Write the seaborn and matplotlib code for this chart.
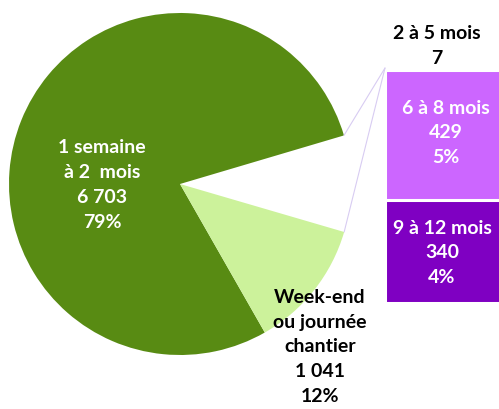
import numpy as np
import pandas as pd
import matplotlib
matplotlib.use("Agg")
import matplotlib.pyplot as plt
import seaborn as sns

# ---- data ----
pie_labels = ["1 semaine\nà 2  mois", "Week-end\nou journée\nchantier", "Autres"]
pie_values = [6703, 1041, 776]
pie_pct = ["79%", "12%", ""]
bar_labels = ["9 à 12 mois", "6 à 8 mois", "2 à 5 mois"]
bar_values = [340, 429, 7]
bar_pct = ["4%", "5%", ""]

def fmt(n):
    return f"{n:,}".replace(",", " ")

sns.set_theme(style="white")
plt.rcParams['font.family'] = ['Lato', 'DejaVu Sans']

W, H = 499, 409
fig = plt.figure(figsize=(W / 100, H / 100), dpi=100)

dark_green = "#588B13"
light_green = "#CCF29B"
light_purple = "#CC66FF"
dark_purple = "#7F00C2"

# bar axes
bx0, bx1 = 385, 505
by_top, by_bot = 68, 303
axb = fig.add_axes([bx0 / W, (H - by_bot) / H, (bx1 - bx0) / W, (by_bot - by_top) / H])
cum = np.cumsum(bar_values)
cols = [dark_purple, light_purple, light_purple]
for i in range(len(cum) - 1, -1, -1):
    sns.barplot(x=[0], y=[cum[i]], color=cols[i], width=1.0, ax=axb,
                saturation=1, edgecolor="white", linewidth=2.2)
axb.set_xlim(-0.5, 0.5)
axb.set_ylim(0, cum[-1])
axb.axis("off")

ax = fig.add_axes([0, 0, 1, 1])
ax.patch.set_alpha(0)
cx, cy, R = 180, 409 - 184, 171
wedges, _ = ax.pie(pie_values, colors=[dark_green, light_green, "none"],
                   startangle=16.5, counterclock=True, radius=R, center=(cx, cy),
                   explode=[0, 0.03, 0], wedgeprops=dict(linewidth=0),
                   frame=True)
ax.set_xlim(0, W)
ax.set_ylim(0, H)
ax.set_aspect("equal")
ax.axis("off")

# connector lines
for w, ang in [(wedges[0], wedges[0].theta1), (wedges[1], wedges[1].theta2)]:
    c = w.center
    px = c[0] + R * np.cos(np.radians(ang))
    py = c[1] + R * np.sin(np.radians(ang))
    ty = H - by_top if ang > 0 else H - by_bot
    ax.plot([px, bx0], [py, ty], color="#D8CCF2", lw=0.8)

fs = 14
tk = dict(ha="center", va="center", fontsize=fs, fontweight="bold", linespacing=1.56)
ax.text(102, H - 185, f"{pie_labels[0]}\n{fmt(pie_values[0])}\n{pie_pct[0]}", color="white", **tk)
ax.text(320, H - 347, f"{pie_labels[1]}\n{fmt(pie_values[1])}\n{pie_pct[1]}", color="black", **tk)
ax.text(437, H - 46, f"{bar_labels[2]}\n{fmt(bar_values[2])}", color="black", **tk)
ax.text(446, H - 133, f"{bar_labels[1]}\n{fmt(bar_values[1])}\n{bar_pct[1]}", color="white", **tk)
ax.text(442, H - 253, f"{bar_labels[0]}\n{fmt(bar_values[0])}\n{bar_pct[0]}", color="white", **tk)

fig.savefig("out.png", dpi=100)
